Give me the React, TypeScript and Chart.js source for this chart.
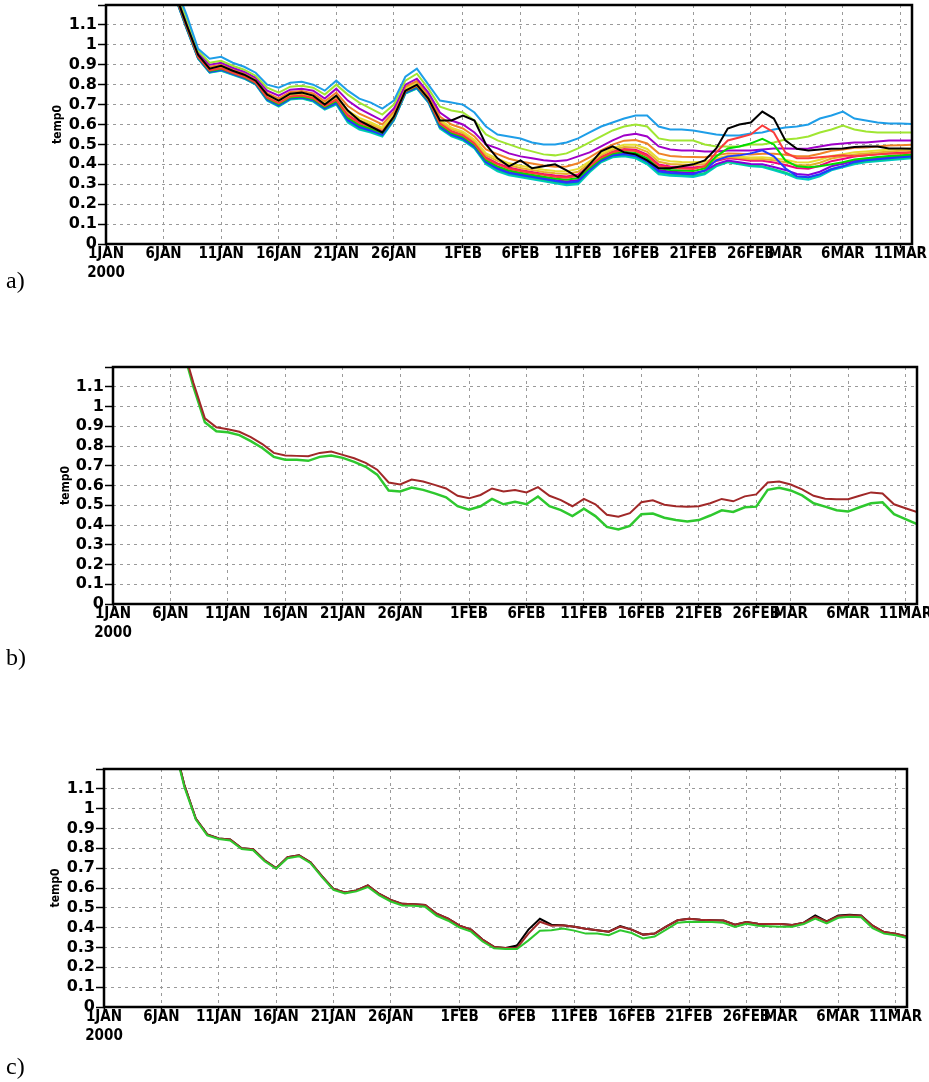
import React, { useEffect, useRef } from "react";
import { Chart, registerables } from "chart.js";

Chart.register(...registerables);

// ---- axis data -------------------------------------------------------
// day index counted from 1JAN 2000 (model calendar with a 28-day February)
const DAYS = [
  6, 7, 8, 9, 10, 11, 12, 13, 14, 15,
  16, 17, 18, 19, 20, 21, 22, 23, 24, 25,
  26, 27, 28, 29, 30, 31, 32, 33, 34, 35,
  36, 37, 38, 39, 40, 41, 42, 43, 44, 45,
  46, 47, 48, 49, 50, 51, 52, 53, 54, 55,
  56, 57, 58, 59, 60, 61, 62, 63, 64, 65,
  66, 67, 68, 69, 70,
];
const TICK_DAYS = [0, 5, 10, 15, 20, 25, 31, 36, 41, 46, 51, 56, 59, 64, 69];
const TICK_LABELS = ["1JAN", "6JAN", "11JAN", "16JAN", "21JAN", "26JAN", "1FEB", "6FEB", "11FEB", "16FEB", "21FEB", "26FEB", "MAR", "6MAR", "11MAR"];
const YEAR_LABEL = "2000";
const X_MAX = 70;
const Y_MAX = 1.2;
const Y_STEP = 0.1;
const Y_TITLE = "temp0";
const PANEL_LABELS = ["a)", "b)", "c)"];

// ---- panel a: ensemble members ----------------------------------------
const A_BLACK = [
  1.26, 1.10, 0.95, 0.88, 0.895, 0.87, 0.85, 0.82, 0.75, 0.72,
  0.755, 0.76, 0.745, 0.70, 0.745, 0.67, 0.62, 0.59, 0.56, 0.64,
  0.77, 0.80, 0.73, 0.62, 0.62, 0.645, 0.62, 0.50, 0.43, 0.39,
  0.42, 0.38, 0.39, 0.40, 0.37, 0.335, 0.40, 0.465, 0.49, 0.46,
  0.45, 0.42, 0.38, 0.38, 0.39, 0.40, 0.42, 0.48, 0.58, 0.60,
  0.61, 0.665, 0.63, 0.52, 0.478, 0.47, 0.475, 0.478, 0.48, 0.487,
  0.49, 0.49, 0.48, 0.48, 0.478,
];
const A_RED = [
  1.252, 1.092, 0.939, 0.872, 0.882, 0.86, 0.84, 0.81, 0.735, 0.707,
  0.74, 0.745, 0.732, 0.692, 0.724, 0.643, 0.607, 0.587, 0.564, 0.638,
  0.768, 0.795, 0.725, 0.604, 0.564, 0.544, 0.504, 0.43, 0.40, 0.378,
  0.367, 0.357, 0.347, 0.338, 0.333, 0.342, 0.39, 0.434, 0.46, 0.472,
  0.467, 0.442, 0.392, 0.383, 0.379, 0.377, 0.39, 0.46, 0.52, 0.535,
  0.55, 0.595, 0.56, 0.46, 0.43, 0.43, 0.435, 0.44, 0.445, 0.44,
  0.445, 0.45, 0.455, 0.455, 0.46,
];
const A_GREEN = [
  1.249, 1.089, 0.937, 0.869, 0.879, 0.858, 0.838, 0.808, 0.731, 0.702,
  0.736, 0.741, 0.727, 0.687, 0.718, 0.634, 0.598, 0.58, 0.558, 0.633,
  0.765, 0.791, 0.721, 0.598, 0.558, 0.538, 0.498, 0.422, 0.39, 0.369,
  0.358, 0.348, 0.338, 0.329, 0.323, 0.331, 0.382, 0.428, 0.454, 0.463,
  0.457, 0.431, 0.381, 0.372, 0.369, 0.366, 0.38, 0.44, 0.48, 0.49,
  0.505, 0.528, 0.50, 0.42, 0.39, 0.385, 0.39, 0.40, 0.41, 0.424,
  0.43, 0.437, 0.442, 0.446, 0.45,
];
const A_BLUE = [
  1.244, 1.084, 0.933, 0.864, 0.874, 0.854, 0.834, 0.804, 0.725, 0.696,
  0.73, 0.735, 0.721, 0.681, 0.708, 0.621, 0.586, 0.569, 0.548, 0.626,
  0.76, 0.785, 0.715, 0.588, 0.548, 0.528, 0.488, 0.41, 0.377, 0.356,
  0.346, 0.336, 0.326, 0.316, 0.308, 0.314, 0.37, 0.418, 0.444, 0.45,
  0.442, 0.414, 0.364, 0.356, 0.353, 0.35, 0.37, 0.42, 0.44, 0.445,
  0.455, 0.47, 0.44, 0.38, 0.34, 0.335, 0.35, 0.375, 0.39, 0.411,
  0.42, 0.425, 0.43, 0.435, 0.439,
];
const A_CYAN = [
  1.24, 1.08, 0.93, 0.86, 0.87, 0.85, 0.83, 0.80, 0.72, 0.69,
  0.725, 0.73, 0.715, 0.675, 0.70, 0.61, 0.575, 0.56, 0.54, 0.62,
  0.755, 0.78, 0.71, 0.58, 0.54, 0.52, 0.48, 0.40, 0.365, 0.345,
  0.335, 0.325, 0.315, 0.305, 0.295, 0.30, 0.36, 0.41, 0.435, 0.44,
  0.43, 0.40, 0.35, 0.343, 0.34, 0.337, 0.35, 0.39, 0.41, 0.40,
  0.39, 0.387, 0.37, 0.353, 0.33, 0.323, 0.34, 0.37, 0.385, 0.40,
  0.41, 0.415, 0.42, 0.425, 0.43,
];
const A_MAGENTA = [
  1.254, 1.094, 0.94, 0.874, 0.884, 0.862, 0.842, 0.812, 0.738, 0.709,
  0.743, 0.748, 0.734, 0.694, 0.728, 0.649, 0.612, 0.592, 0.568, 0.641,
  0.771, 0.798, 0.728, 0.608, 0.568, 0.548, 0.508, 0.435, 0.405, 0.384,
  0.372, 0.362, 0.352, 0.344, 0.339, 0.349, 0.395, 0.438, 0.465, 0.477,
  0.473, 0.449, 0.399, 0.389, 0.386, 0.384, 0.39, 0.416, 0.431, 0.425,
  0.418, 0.418, 0.409, 0.397, 0.382, 0.378, 0.393, 0.416, 0.427, 0.439,
  0.445, 0.45, 0.455, 0.458, 0.462,
];
const A_YELLOW = [
  1.262, 1.102, 0.947, 0.882, 0.892, 0.869, 0.849, 0.819, 0.748, 0.72,
  0.753, 0.758, 0.745, 0.705, 0.744, 0.67, 0.633, 0.61, 0.584, 0.653,
  0.78, 0.808, 0.738, 0.624, 0.584, 0.564, 0.524, 0.455, 0.428, 0.405,
  0.393, 0.383, 0.373, 0.366, 0.364, 0.377, 0.415, 0.454, 0.482, 0.498,
  0.498, 0.477, 0.427, 0.416, 0.412, 0.41, 0.413, 0.431, 0.443, 0.438,
  0.434, 0.435, 0.43, 0.423, 0.411, 0.409, 0.423, 0.442, 0.451, 0.461,
  0.465, 0.47, 0.475, 0.477, 0.48,
];
const A_ORANGE = [
  1.27, 1.11, 0.95, 0.89, 0.90, 0.876, 0.856, 0.826, 0.758, 0.731,
  0.763, 0.768, 0.756, 0.716, 0.76, 0.693, 0.654, 0.628, 0.60, 0.665,
  0.789, 0.818, 0.748, 0.64, 0.60, 0.58, 0.54, 0.475, 0.451, 0.428,
  0.414, 0.404, 0.394, 0.388, 0.389, 0.405, 0.435, 0.47, 0.499, 0.519,
  0.522, 0.505, 0.455, 0.442, 0.438, 0.437, 0.436, 0.446, 0.455, 0.453,
  0.45, 0.453, 0.453, 0.448, 0.441, 0.441, 0.453, 0.468, 0.475, 0.483,
  0.485, 0.49, 0.495, 0.496, 0.498,
];
const A_PURPLE = [
  1.28, 1.12, 0.96, 0.90, 0.91, 0.885, 0.865, 0.835, 0.77, 0.745,
  0.775, 0.78, 0.77, 0.73, 0.78, 0.72, 0.68, 0.65, 0.62, 0.68,
  0.80, 0.83, 0.76, 0.66, 0.62, 0.60, 0.56, 0.50, 0.48, 0.455,
  0.44, 0.43, 0.42, 0.415, 0.42, 0.44, 0.46, 0.49, 0.52, 0.545,
  0.553, 0.54, 0.49, 0.475, 0.47, 0.47, 0.465, 0.465, 0.47, 0.47,
  0.47, 0.475, 0.48, 0.48, 0.478, 0.48, 0.49, 0.50, 0.505, 0.51,
  0.51, 0.515, 0.52, 0.52, 0.52,
];
const A_YGREEN = [
  1.29, 1.13, 0.97, 0.91, 0.92, 0.895, 0.875, 0.845, 0.785, 0.76,
  0.79, 0.795, 0.785, 0.75, 0.80, 0.75, 0.71, 0.68, 0.65, 0.70,
  0.82, 0.855, 0.78, 0.69, 0.67, 0.66, 0.62, 0.55, 0.52, 0.50,
  0.48, 0.465, 0.45, 0.445, 0.455, 0.48, 0.51, 0.54, 0.57, 0.59,
  0.60, 0.59, 0.53, 0.52, 0.52, 0.52, 0.50, 0.49, 0.49, 0.49,
  0.50, 0.50, 0.51, 0.525, 0.53, 0.54, 0.56, 0.575, 0.595, 0.575,
  0.565, 0.56, 0.56, 0.56, 0.56,
];
const A_SKY = [
  1.30, 1.15, 0.98, 0.93, 0.94, 0.91, 0.89, 0.86, 0.80, 0.785,
  0.81, 0.815, 0.80, 0.77, 0.82, 0.77, 0.73, 0.71, 0.68, 0.72,
  0.84, 0.88, 0.80, 0.72, 0.71, 0.70, 0.66, 0.59, 0.55, 0.54,
  0.53, 0.51, 0.50, 0.50, 0.51, 0.53, 0.56, 0.59, 0.61, 0.63,
  0.645, 0.645, 0.59, 0.575, 0.575, 0.57, 0.56, 0.55, 0.545, 0.545,
  0.555, 0.56, 0.575, 0.585, 0.59, 0.60, 0.63, 0.645, 0.665, 0.63,
  0.62, 0.61, 0.605, 0.605, 0.603,
];
const A_GOLD = [
  1.258, 1.098, 0.944, 0.878, 0.888, 0.866, 0.846, 0.816, 0.743, 0.715,
  0.748, 0.753, 0.74, 0.70, 0.736, 0.66, 0.622, 0.60, 0.576, 0.647,
  0.775, 0.803, 0.733, 0.616, 0.576, 0.556, 0.516, 0.445, 0.417, 0.395,
  0.382, 0.372, 0.362, 0.355, 0.351, 0.363, 0.405, 0.446, 0.473, 0.487,
  0.485, 0.463, 0.413, 0.402, 0.399, 0.397, 0.402, 0.424, 0.437, 0.432,
  0.426, 0.427, 0.42, 0.41, 0.397, 0.394, 0.408, 0.429, 0.439, 0.45,
  0.455, 0.46, 0.465, 0.468, 0.47,
];
const A_TEAL = [
  1.242, 1.082, 0.932, 0.862, 0.872, 0.852, 0.832, 0.802, 0.723, 0.693,
  0.728, 0.733, 0.718, 0.678, 0.704, 0.616, 0.58, 0.565, 0.544, 0.623,
  0.757, 0.783, 0.713, 0.584, 0.544, 0.524, 0.484, 0.405, 0.371, 0.351,
  0.34, 0.33, 0.32, 0.311, 0.301, 0.307, 0.365, 0.414, 0.439, 0.445,
  0.436, 0.407, 0.357, 0.35, 0.347, 0.344, 0.356, 0.394, 0.413, 0.404,
  0.394, 0.391, 0.376, 0.359, 0.337, 0.331, 0.348, 0.377, 0.391, 0.406,
  0.415, 0.42, 0.425, 0.43, 0.435,
];
const A_VIOLET = [
  1.246, 1.086, 0.935, 0.866, 0.876, 0.855, 0.835, 0.805, 0.728, 0.698,
  0.733, 0.738, 0.723, 0.683, 0.712, 0.627, 0.591, 0.574, 0.552, 0.629,
  0.762, 0.788, 0.718, 0.592, 0.552, 0.532, 0.492, 0.415, 0.382, 0.362,
  0.351, 0.341, 0.331, 0.322, 0.314, 0.321, 0.375, 0.422, 0.448, 0.456,
  0.448, 0.421, 0.371, 0.363, 0.36, 0.357, 0.367, 0.401, 0.419, 0.411,
  0.402, 0.40, 0.387, 0.372, 0.352, 0.347, 0.363, 0.39, 0.403, 0.417,
  0.425, 0.43, 0.435, 0.439, 0.444,
];

// ---- panel b -----------------------------------------------------------
const B_BROWN = [
  1.32, 1.12, 0.94, 0.895, 0.885, 0.872, 0.845, 0.81, 0.765, 0.752,
  0.75, 0.748, 0.765, 0.772, 0.755, 0.738, 0.715, 0.68, 0.615, 0.605,
  0.63, 0.62, 0.603, 0.585, 0.548, 0.535, 0.552, 0.585, 0.57, 0.577,
  0.565, 0.592, 0.548, 0.526, 0.495, 0.532, 0.505, 0.452, 0.442, 0.46,
  0.515, 0.525, 0.503, 0.495, 0.492, 0.495, 0.51, 0.532, 0.52, 0.545,
  0.555, 0.615, 0.62, 0.605, 0.58, 0.548, 0.533, 0.53, 0.53, 0.548,
  0.565, 0.56, 0.505, 0.485, 0.465,
];
const B_GREEN = [
  1.31, 1.10, 0.92, 0.875, 0.87, 0.855, 0.825, 0.79, 0.745, 0.73,
  0.73, 0.725, 0.745, 0.752, 0.74, 0.72, 0.695, 0.655, 0.575, 0.57,
  0.59, 0.578, 0.56, 0.54, 0.495, 0.478, 0.495, 0.532, 0.505, 0.518,
  0.505, 0.544, 0.495, 0.475, 0.445, 0.482, 0.445, 0.39, 0.377, 0.395,
  0.455, 0.458, 0.437, 0.425, 0.418, 0.425, 0.448, 0.474, 0.466, 0.49,
  0.493, 0.578, 0.588, 0.575, 0.55, 0.51, 0.493, 0.475, 0.468, 0.49,
  0.51, 0.515, 0.455, 0.43, 0.405,
];

// ---- panel c -----------------------------------------------------------
const C_BLACK = [
  1.35, 1.12, 0.95, 0.87, 0.85, 0.845, 0.80, 0.795, 0.74, 0.70,
  0.755, 0.765, 0.73, 0.66, 0.595, 0.578, 0.588, 0.613, 0.57, 0.54,
  0.52, 0.518, 0.515, 0.47, 0.445, 0.41, 0.39, 0.34, 0.303, 0.298,
  0.31, 0.39, 0.445, 0.415, 0.412, 0.405, 0.395, 0.387, 0.38, 0.408,
  0.39, 0.365, 0.37, 0.405, 0.437, 0.445, 0.44, 0.438, 0.436, 0.415,
  0.428, 0.42, 0.418, 0.418, 0.414, 0.425, 0.462, 0.432, 0.462, 0.465,
  0.462, 0.41, 0.378, 0.37, 0.355,
];
const C_BROWN = [
  1.35, 1.12, 0.95, 0.87, 0.85, 0.845, 0.80, 0.795, 0.74, 0.70,
  0.755, 0.765, 0.73, 0.66, 0.595, 0.578, 0.588, 0.613, 0.57, 0.54,
  0.52, 0.518, 0.515, 0.47, 0.445, 0.41, 0.39, 0.34, 0.303, 0.298,
  0.298, 0.37, 0.43, 0.41, 0.412, 0.405, 0.395, 0.387, 0.38, 0.405,
  0.39, 0.365, 0.37, 0.405, 0.437, 0.445, 0.44, 0.438, 0.436, 0.415,
  0.428, 0.42, 0.418, 0.418, 0.414, 0.425, 0.455, 0.432, 0.458, 0.462,
  0.46, 0.41, 0.378, 0.37, 0.355,
];
const C_GREEN = [
  1.34, 1.11, 0.945, 0.865, 0.847, 0.84, 0.797, 0.79, 0.735, 0.697,
  0.75, 0.76, 0.725, 0.655, 0.59, 0.573, 0.583, 0.605, 0.563, 0.532,
  0.512, 0.51, 0.505, 0.46, 0.435, 0.40, 0.38, 0.33, 0.296, 0.292,
  0.292, 0.336, 0.385, 0.387, 0.396, 0.385, 0.37, 0.37, 0.362, 0.387,
  0.373, 0.345, 0.355, 0.39, 0.425, 0.43, 0.428, 0.428, 0.425, 0.404,
  0.42, 0.41, 0.407, 0.405, 0.405, 0.418, 0.446, 0.422, 0.45, 0.455,
  0.452, 0.398, 0.37, 0.362, 0.348,
];

type Series = { label: string; color: string; width: number; values: number[] };

const SERIES_A: Series[] = [
  { label: "m1", color: "#000000", width: 2, values: A_BLACK },
  { label: "m2", color: "#fa3c3c", width: 2, values: A_RED },
  { label: "m3", color: "#00dc00", width: 2, values: A_GREEN },
  { label: "m4", color: "#1e3cff", width: 2, values: A_BLUE },
  { label: "m11", color: "#1e9ee8", width: 2, values: A_SKY },
  { label: "m10", color: "#a0e632", width: 2, values: A_YGREEN },
  { label: "m9", color: "#a000c8", width: 2, values: A_PURPLE },
  { label: "m8", color: "#f08228", width: 2, values: A_ORANGE },
  { label: "m7", color: "#e6dc32", width: 2, values: A_YELLOW },
  { label: "m12", color: "#e6af2d", width: 2, values: A_GOLD },
  { label: "m6", color: "#f00082", width: 2, values: A_MAGENTA },
  { label: "m14", color: "#8200dc", width: 2, values: A_VIOLET },
  { label: "m13", color: "#00d28c", width: 2, values: A_TEAL },
  { label: "m5", color: "#00c8c8", width: 2, values: A_CYAN },
];
const SERIES_B: Series[] = [
  { label: "brown", color: "#a02828", width: 2, values: B_BROWN },
  { label: "green", color: "#2ec82e", width: 2.5, values: B_GREEN },
];
const SERIES_C: Series[] = [
  { label: "green", color: "#2ec82e", width: 2, values: C_GREEN },
  { label: "brown", color: "#a02828", width: 2, values: C_BROWN },
  { label: "black", color: "#000000", width: 2, values: C_BLACK },
];

const framePlugin = {
  id: "frame",
  afterDraw(chart: any) {
    const { ctx, chartArea: a } = chart;
    ctx.save();
    ctx.strokeStyle = "#000";
    ctx.lineWidth = 2.5;
    ctx.strokeRect(a.left, a.top, a.right - a.left, a.bottom - a.top);
    ctx.restore();
  },
};

type PanelProps = {
  top: number;
  height: number;
  yWidth: number;
  padRight: number;
  titlePad: number;
  series: Series[];
};

function Panel({ top, height, yWidth, padRight, titlePad, series }: PanelProps) {
  const ref = useRef<HTMLCanvasElement>(null);
  useEffect(() => {
    const tickFont = { family: "'DejaVu Sans Condensed', 'DejaVu Sans', sans-serif", weight: "bold" as const, size: 15, lineHeight: 1.25 };
    const yFont = { family: "'DejaVu Sans', sans-serif", weight: "bold" as const, size: 16, lineHeight: 1.0 };
    const chart = new Chart(ref.current as HTMLCanvasElement, {
      type: "line",
      data: {
        datasets: series.map((s) => ({
          label: s.label,
          data: DAYS.map((d, i) => ({ x: d, y: s.values[i] })),
          borderColor: s.color,
          backgroundColor: s.color,
          borderWidth: s.width,
          pointRadius: 0,
          tension: 0,
          fill: false,
        })),
      },
      options: {
        animation: false,
        responsive: false,
        events: [],
        layout: { padding: { top: 5, right: padRight, left: 0, bottom: 0 } },
        plugins: { legend: { display: false }, tooltip: { enabled: false } },
        scales: {
          x: {
            type: "linear",
            min: 0,
            max: X_MAX,
            afterBuildTicks: (s: any) => {
              s.ticks = TICK_DAYS.map((v) => ({ value: v }));
            },
            afterFit: (s: any) => {
              s.height = 46;
              s.paddingLeft = 0;
              s.paddingRight = 0;
            },
            ticks: {
              autoSkip: false,
              maxRotation: 0,
              minRotation: 0,
              padding: -3,
              color: "#000",
              font: tickFont,
              callback: (v: any) => {
                const i = TICK_DAYS.indexOf(Number(v));
                if (i < 0) return "";
                return i === 0 ? [TICK_LABELS[0], YEAR_LABEL] : TICK_LABELS[i];
              },
            },
            grid: { color: "#9a9a9a", lineWidth: 1, tickLength: 4, tickColor: "#000", tickWidth: 1.5 },
            border: { display: false, dash: [3, 4] },
          },
          y: {
            type: "linear",
            min: 0,
            max: Y_MAX,
            afterFit: (s: any) => {
              s.width = yWidth;
              s.paddingTop = 0;
              s.paddingBottom = 0;
            },
            ticks: {
              stepSize: Y_STEP,
              autoSkip: false,
              padding: 1,
              color: "#000",
              font: yFont,
              callback: (v: any) => {
                const r = Math.round(Number(v) * 10) / 10;
                if (r >= Y_MAX) return "";
                return String(r);
              },
            },
            grid: { color: "#9a9a9a", lineWidth: 1, tickLength: 8, tickColor: "#000", tickWidth: 1.5 },
            border: { display: false, dash: [3, 4] },
            title: {
              display: true,
              text: Y_TITLE,
              color: "#000",
              font: { family: "'DejaVu Sans Condensed', 'DejaVu Sans', sans-serif", weight: "bold", size: 12 },
              padding: { top: titlePad, bottom: 0 },
            },
          },
        },
      },
      plugins: [framePlugin],
    } as any);
    return () => chart.destroy();
  }, []);
  return (
    <canvas
      ref={ref}
      width={929}
      height={height}
      style={{ position: "absolute", left: 0, top, width: 929, height }}
    />
  );
}

const labelStyle = (top: number): React.CSSProperties => ({
  position: "absolute",
  left: 6,
  top,
  fontFamily: "'Liberation Serif', 'Times New Roman', serif",
  fontSize: 24,
  lineHeight: "24px",
  color: "#000",
});

export default function App() {
  return (
    <div style={{ position: "absolute", left: 0, top: 0, width: 929, height: 1082, background: "#fff" }}>
      <Panel top={0} height={290} yWidth={106} padRight={17} titlePad={51} series={SERIES_A} />
      <Panel top={362} height={288} yWidth={113} padRight={12} titlePad={59} series={SERIES_B} />
      <Panel top={764} height={289} yWidth={104} padRight={22} titlePad={49} series={SERIES_C} />
      <div style={labelStyle(268)}>{PANEL_LABELS[0]}</div>
      <div style={labelStyle(645)}>{PANEL_LABELS[1]}</div>
      <div style={labelStyle(1054)}>{PANEL_LABELS[2]}</div>
    </div>
  );
}
